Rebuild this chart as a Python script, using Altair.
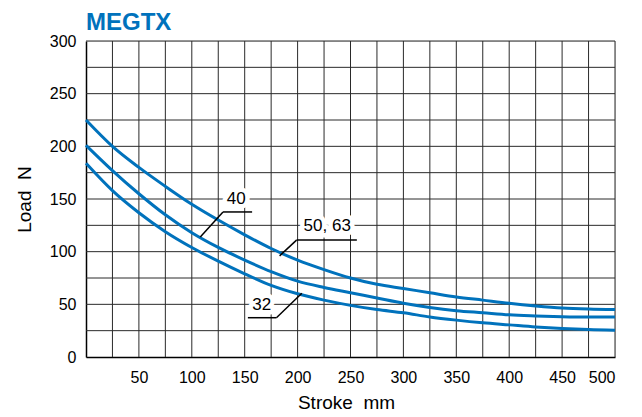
import altair as alt
import pandas as pd

stroke = [0, 25, 50, 75, 100, 125, 150, 175, 200, 225, 250, 275, 300, 325, 350, 375, 400, 425, 450, 475, 500]
load_50_63 = [225, 200, 180, 162, 145, 130, 116, 103, 92, 83, 75, 69, 65, 61, 57, 54, 51, 48.5, 46.5, 45.5, 45]
load_40 = [201, 177, 155, 135, 118, 104, 92, 81, 72, 66, 61, 56, 51, 47, 44, 42, 40, 39, 38.3, 38, 38]
load_32 = [184, 158, 137, 119, 104, 91, 79, 68, 60, 54, 49, 45, 42, 38, 35, 32.5, 30.5, 28.5, 27, 26, 25.5]

x_ticks = [50, 100, 150, 200, 250, 300, 350, 400, 450, 500]
y_ticks = [0, 50, 100, 150, 200, 250, 300]
x_grid = list(range(25, 501, 25))
y_grid = list(range(25, 301, 25))

label_text = ["40", "50, 63", "32"]
label_x = [142, 228, 166]
label_y = [150, 124, 49]

# leader lines: (x, y) -> (x2, y2)
seg_x = [108, 129.5, 183, 199, 204, 180]
seg_y = [114, 137.7, 96, 111, 60.5, 37.3]
seg_x2 = [129.5, 157, 199, 256, 180, 153]
seg_y2 = [137.7, 137.7, 111, 111, 37.3, 37.3]

rows = []
for name, vals in [("50, 63", load_50_63), ("40", load_40), ("32", load_32)]:
    for s, v in zip(stroke, vals):
        rows.append({"stroke": s, "load": v, "bore": name})
df = pd.DataFrame(rows)
lab = pd.DataFrame({"t": label_text, "x": label_x, "y": label_y})
seg = pd.DataFrame({"x": seg_x, "y": seg_y, "x2": seg_x2, "y2": seg_y2})
gx = pd.DataFrame({"v": x_grid})
gy = pd.DataFrame({"v": y_grid})

FONT = "Liberation Sans"
BLUE = "#0072BC"

xs = alt.Scale(domain=[0, 500], nice=False)
ys = alt.Scale(domain=[0, 300], nice=False)

xax = alt.Axis(values=x_ticks, grid=False, ticks=False, domain=True, domainColor="black", domainWidth=1.5,
               labelFont=FONT, labelFontSize=16, labelColor="black", labelPadding=12,
               title="Stroke\u00a0 mm", titleFont=FONT, titleFontSize=19, titleFontWeight="normal",
               titleColor="black", titleX=260, titleY=45, titleBaseline="middle")
yax = alt.Axis(values=y_ticks, grid=False, ticks=False, domain=True, domainColor="black", domainWidth=1.5,
               labelFont=FONT, labelFontSize=16, labelColor="black", labelPadding=10,
               title="Load\u00a0 N", titleFont=FONT, titleFontSize=19, titleFontWeight="normal",
               titleColor="black", titleX=-62, titleY=158, titleBaseline="middle")

vgrid = alt.Chart(gx).mark_rule(color="#2a2a2a", strokeWidth=1).encode(
    x=alt.X("v:Q", scale=xs, axis=xax)
)
hgrid = alt.Chart(gy).mark_rule(color="#2a2a2a", strokeWidth=1).encode(
    y=alt.Y("v:Q", scale=ys, axis=yax)
)

lines = alt.Chart(df).mark_line(color=BLUE, strokeWidth=3, interpolate="monotone").encode(
    x=alt.X("stroke:Q", scale=xs),
    y=alt.Y("load:Q", scale=ys),
    detail="bore:N",
)

rules = alt.Chart(seg).mark_rule(color="black", strokeWidth=1.5).encode(
    x=alt.X("x:Q", scale=xs), y=alt.Y("y:Q", scale=ys), x2="x2:Q", y2="y2:Q"
)

halo = alt.Chart(lab).mark_text(font=FONT, fontSize=17, color="white", stroke="white",
                                strokeWidth=9, strokeJoin="round").encode(
    x=alt.X("x:Q", scale=xs), y=alt.Y("y:Q", scale=ys), text="t:N"
)
texts = alt.Chart(lab).mark_text(font=FONT, fontSize=17, color="black").encode(
    x=alt.X("x:Q", scale=xs), y=alt.Y("y:Q", scale=ys), text="t:N"
)

title = alt.Chart(pd.DataFrame({"t": ["MEGTX"]})).mark_text(
    font=FONT, fontSize=24, fontWeight="bold", color=BLUE, align="left", baseline="alphabetic"
).encode(x=alt.value(0), y=alt.value(-11), text="t:N")

chart = alt.layer(vgrid, hgrid, lines, rules, halo, texts, title).properties(
    width=529, height=316,
    autosize=alt.AutoSizeParams(type="none"),
    padding={"left": 78, "top": 33, "right": 19, "bottom": 57},
).configure_view(stroke="black", strokeWidth=1.5).configure(background="white")

chart.save("out.html", embed_options={"renderer": "svg", "actions": False})
